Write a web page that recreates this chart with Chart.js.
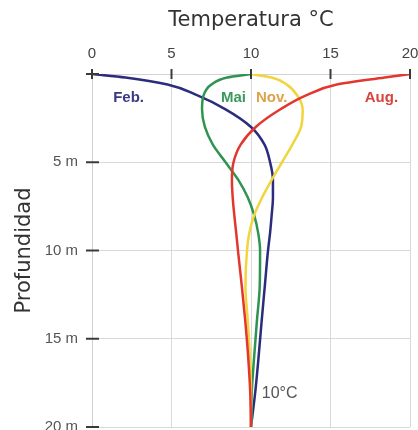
<!DOCTYPE html>
<html><head><meta charset="utf-8">
<script src="https://cdn.jsdelivr.net/npm/chart.js@4.4.0/dist/chart.umd.min.js"></script>
<style>html,body{margin:0;padding:0;background:#fff;}canvas{display:block;}</style>
</head><body>
<canvas id="c" width="418" height="430"></canvas>
<script>
const depths   = [0, 0.2, 0.6, 1.2, 2, 3, 4, 5, 6, 7, 8, 9, 10, 12, 14, 16, 18, 20];
const febTemps = [0, 2.1, 4.75, 6.6, 8.4, 10.0, 10.85, 11.2, 11.38, 11.38, 11.3, 11.2, 11.07, 10.87, 10.67, 10.48, 10.27, 10];
const maiTemps = [10, 8.5, 7.5, 7.02, 6.92, 7.1, 7.6, 8.4, 9.2, 9.8, 10.2, 10.45, 10.57, 10.55, 10.37, 10.2, 10.05, 10];
const novTemps = [10, 11.3, 12.25, 12.9, 13.25, 13.15, 12.6, 11.95, 11.3, 10.7, 10.2, 9.9, 9.75, 9.65, 9.8, 9.93, 10.0, 10];
const augTemps = [20, 18.4, 15.4, 13.5, 11.85, 10.3, 9.35, 8.9, 8.8, 8.85, 8.95, 9.07, 9.18, 9.42, 9.64, 9.82, 9.95, 10];
const seriesNames = ['Feb.', 'Mai', 'Nov.', 'Aug.'];
const tempTicks  = [0, 5, 10, 15, 20];
const depthTicks = [0, 5, 10, 15, 20];

const lineColors  = ['#2c2c7e', '#2f9450', '#f2d43c', '#e2372e'];
const labelColors = ['#3a3a82', '#3a9a5c', '#dca34a', '#d8443e'];
// label anchors in data space [temperature, depth]
const labelAnchors = [[2.3, 1.35], [8.9, 1.35], [11.3, 1.35], [18.2, 1.35]];
const noteAnchor = [11.8, 18.1];

function pts(temps) { return temps.map((t, i) => ({x: t, y: depths[i]})); }
const allTemps = [febTemps, maiTemps, novTemps, augTemps];

const datasets = allTemps.map((t, i) => ({
  label: seriesNames[i],
  data: pts(t),
  borderColor: lineColors[i],
  borderWidth: 2.5,
  pointRadius: 0,
  showLine: true,
  fill: false,
  indexAxis: 'y',
  cubicInterpolationMode: 'monotone',
  order: 3 - i
}));

const overlay = {
  id: 'overlay',
  afterDatasetsDraw(chart) {
    const {ctx, scales: {x, y}} = chart;
    ctx.save();
    ctx.textAlign = 'center';
    ctx.textBaseline = 'middle';
    ctx.font = 'bold 15px "Liberation Sans", Arial, sans-serif';
    seriesNames.forEach((n, i) => {
      ctx.fillStyle = labelColors[i];
      ctx.fillText(n, x.getPixelForValue(labelAnchors[i][0]), y.getPixelForValue(labelAnchors[i][1]));
    });
    ctx.font = '16px "Liberation Sans", Arial, sans-serif';
    ctx.fillStyle = '#555';
    ctx.fillText('10°C', x.getPixelForValue(noteAnchor[0]), y.getPixelForValue(noteAnchor[1]));
    // tick marks
    ctx.strokeStyle = '#3a3a3a';
    ctx.lineWidth = 2;
    tempTicks.forEach(v => {
      const px = x.getPixelForValue(v);
      ctx.beginPath(); ctx.moveTo(px, y.top - 5); ctx.lineTo(px, y.top + 5); ctx.stroke();
    });
    depthTicks.forEach(v => {
      const py = y.getPixelForValue(v);
      ctx.beginPath(); ctx.moveTo(x.left - 6, py); ctx.lineTo(x.left + 7, py); ctx.stroke();
    });
    ctx.restore();
  }
};

new Chart(document.getElementById('c'), {
  type: 'scatter',
  data: { datasets },
  options: {
    responsive: false,
    devicePixelRatio: 1,
    animation: false,
    layout: { padding: { left: 0, right: 8, top: 0, bottom: 3 } },
    plugins: { legend: { display: false }, tooltip: { enabled: false } },
    scales: {
      x: {
        type: 'linear', position: 'top', min: 0, max: 20,
        afterBuildTicks(s) { s.ticks = tempTicks.map(v => ({value: v})); },
        afterFit(s) { s.height = 74; s.paddingLeft = 0; s.paddingRight = 0; },
        ticks: { padding: 11, color: '#444', font: { family: '"Liberation Sans", Arial, sans-serif', size: 15 } },
        grid: { color: '#d9d9d9', lineWidth: 1, drawTicks: false },
        border: { color: '#d6cfd3', width: 1 },
        title: { display: true, text: 'Temperatura °C', color: '#333', padding: { top: 8, bottom: 0 },
                 font: { family: '"DejaVu Sans", sans-serif', size: 21 } }
      },
      y: {
        type: 'linear', reverse: true, min: 0, max: 20,
        afterBuildTicks(s) { s.ticks = depthTicks.map(v => ({value: v})); },
        afterFit(s) { s.width = 92; s.paddingTop = 0; s.paddingBottom = 0; },
        ticks: { padding: 14, color: '#555', font: { family: '"Liberation Sans", Arial, sans-serif', size: 15 },
                 callback: v => v === 0 ? '' : v + ' m' },
        grid: { color: '#d9d9d9', lineWidth: 1, drawTicks: false },
        border: { color: '#d0d0d0', width: 1 },
        title: { display: true, text: 'Profundidad', color: '#333', padding: { top: 12, bottom: 0 },
                 font: { family: '"DejaVu Sans", sans-serif', size: 21 } }
      }
    }
  },
  plugins: [overlay]
});
</script>
</body></html>
